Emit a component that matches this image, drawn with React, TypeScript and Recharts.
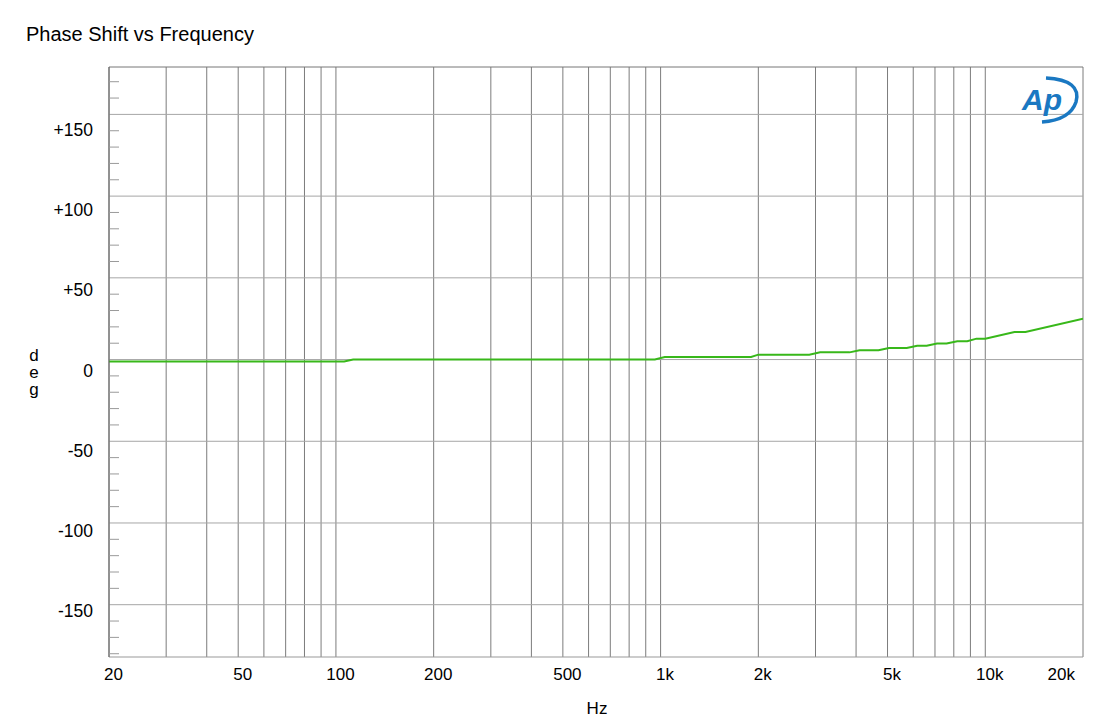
import { LineChart, Line, XAxis, YAxis, CartesianGrid, ReferenceLine } from "recharts"

// frequency (Hz) and phase (deg)
const freqs = [20, 106, 113, 960, 1030, 1900, 2000, 2870, 3100, 3820, 4100, 4690, 5050, 5730, 6170, 6600, 7100, 7600, 8200, 8800, 9400, 10000, 12300, 13300, 20000]
const phase = [-1.2, -1.2, 0, 0, 1.6, 1.6, 3.0, 3.0, 4.4, 4.4, 5.7, 5.7, 7.1, 7.1, 8.5, 8.5, 9.8, 9.8, 11.2, 11.2, 12.8, 12.8, 16.9, 16.9, 25]

const gridFreqs = [20, 30, 40, 50, 60, 70, 80, 90, 100, 200, 300, 400, 500, 600, 700, 800, 900, 1000, 2000, 3000, 4000, 5000, 6000, 7000, 8000, 9000, 10000, 20000]
const labelFreqs = [20, 50, 100, 200, 500, 1000, 2000, 5000, 10000, 20000]
const labelTexts = ["20", "50", "100", "200", "500", "1k", "2k", "5k", "10k", "20k"]

const yDomain = [-182, 179]
const yMajor = [-150, -100, -50, 0, 50, 100, 150]
const yAllTicks = [-180, -170, -160, -150, -140, -130, -120, -110, -100, -90, -80, -70, -60, -50, -40, -30, -20, -10, 0, 10, 20, 30, 40, 50, 60, 70, 80, 90, 100, 110, 120, 130, 140, 150, 160, 170]

const data = freqs.map((f, i) => ({ f, deg: phase[i] }))

const FONT = '"Liberation Sans", Arial, sans-serif'

function XTick({ x, y, payload }: any) {
  const i = labelFreqs.indexOf(payload.value)
  if (i < 0) return null
  const last = i === labelFreqs.length - 1
  return (
    <text
      x={last ? x - 8 : x + 4.5}
      y={y + 17}
      textAnchor={last ? "end" : "middle"}
      dominantBaseline="central"
      fontSize={17}
      fontFamily={FONT}
      fill="#000"
    >
      {labelTexts[i]}
    </text>
  )
}

function YTick({ x, y, payload }: any) {
  const v = payload.value
  if (yMajor.includes(v)) {
    return (
      <text
        x={x - 16}
        y={y + 11 + v * 0.03}
        textAnchor="end"
        dominantBaseline="central"
        fontSize={17.5}
        fontFamily={FONT}
        fill="#000"
      >
        {v > 0 ? `+${v}` : `${v}`}
      </text>
    )
  }
  // minor tick drawn inside the plot
  return <line x1={x} x2={x + 10} y1={y} y2={y} stroke="#9a9a9a" strokeWidth={1} />
}

function DegLabel() {
  return (
    <text x={34} textAnchor="middle" fontSize={17} fontFamily={FONT} fill="#000">
      <tspan x={34} y={361}>d</tspan>
      <tspan x={34} y={378}>e</tspan>
      <tspan x={34} y={395}>g</tspan>
    </text>
  )
}

function HzLabel() {
  return (
    <text x={597} y={714} textAnchor="middle" fontSize={17} fontFamily={FONT} fill="#000">
      Hz
    </text>
  )
}

function ApLogo() {
  return (
    <svg width={70} height={56} style={{ position: "absolute", left: 1016, top: 72 }}>
      <path d="M30 6 Q66 8 60 30 Q54 48 26 50" fill="none" stroke="#1a78c2" strokeWidth={3.5} />
      <text x={6} y={38} fontSize={30} fontWeight="bold" fontStyle="italic" fontFamily={FONT} fill="#1a78c2">
        Ap
      </text>
    </svg>
  )
}

export default function App() {
  return (
    <div style={{ position: "absolute", left: 0, top: 0, width: 1108, height: 720, background: "#fff" }}>
      <div
        style={{
          position: "absolute",
          left: 26,
          top: 23,
          fontFamily: FONT,
          fontSize: 20,
          color: "#000",
          whiteSpace: "nowrap",
        }}
      >
        Phase Shift vs Frequency
      </div>
      <div style={{ position: "absolute", left: 0, top: 0 }}>
        <LineChart width={1108} height={720} data={data} margin={{ top: 67, right: 25, left: 0, bottom: 0 }}>
          <CartesianGrid horizontal={false} stroke="#7c7c7c" />
          {yMajor.map((v) => (
            <ReferenceLine key={v} y={v} stroke="#a6a6a6" />
          ))}
          <ReferenceLine y={yDomain[1]} stroke="#777" />
          <XAxis
            dataKey="f"
            type="number"
            scale="log"
            domain={[20, 20000]}
            ticks={gridFreqs}
            interval={0}
            allowDataOverflow
            height={63}
            tickSize={0}
            tickMargin={0}
            stroke="#999"
            tick={<XTick />}
            label={<HzLabel />}
          />
          <YAxis
            type="number"
            domain={yDomain}
            ticks={yAllTicks}
            interval={0}
            allowDataOverflow
            width={109}
            tickSize={0}
            tickMargin={0}
            stroke="#666"
            tick={<YTick />}
            label={<DegLabel />}
          />
          <Line
            type="linear"
            dataKey="deg"
            stroke="#38b81a"
            strokeWidth={2}
            dot={false}
            isAnimationActive={false}
          />
        </LineChart>
      </div>
      <ApLogo />
    </div>
  )
}
